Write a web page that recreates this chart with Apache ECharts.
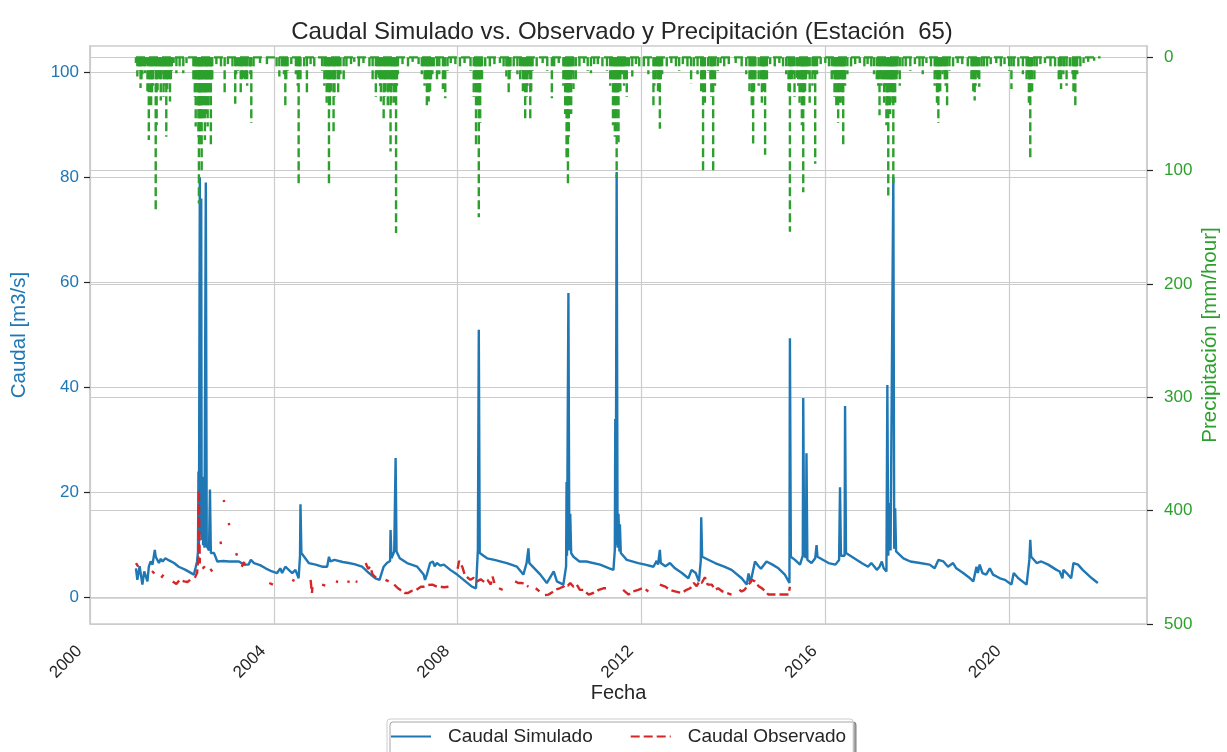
<!DOCTYPE html>
<html><head><meta charset="utf-8">
<script src="https://cdn.jsdelivr.net/npm/echarts@6/dist/echarts.min.js"></script>
<style>html,body{margin:0;padding:0;background:#fff}#c{width:1227px;height:752px}</style>
</head><body><div id="c"></div><script>
// ---- tick labels ----
const yearTicks = [2000, 2004, 2008, 2012, 2016, 2020];
const caudalTicks = [0, 20, 40, 60, 80, 100];
const precipTicks = [0, 100, 200, 300, 400, 500];

// ---- Caudal Simulado [m3/s] : [decimal year, value] ----
const simulated = [
[2001.00,5.6],[2001.03,3.4],[2001.08,6.0],[2001.14,2.5],[2001.18,5.0],[2001.25,3.1],[2001.28,5.9],[2001.32,6.9],
[2001.36,6.3],[2001.41,9.1],[2001.43,7.8],[2001.50,6.6],[2001.54,7.4],[2001.58,6.9],[2001.64,7.5],[2001.72,7.1],
[2001.83,6.6],[2001.93,5.9],[2002.08,5.3],[2002.26,4.4],[2002.30,5.8],[2002.33,6.9],[2002.35,8.8],[2002.36,24],
[2002.37,10],[2002.39,80],[2002.40,12],[2002.42,76],[2002.43,11],[2002.45,23],[2002.46,10],[2002.48,15],
[2002.49,9.5],[2002.52,79],[2002.54,9.8],[2002.57,10],[2002.59,9.0],[2002.61,20.6],[2002.63,8.5],[2002.70,8.5],
[2002.77,6.9],[2002.90,7.0],[2003.02,6.9],[2003.24,6.9],[2003.35,6.3],[2003.45,6.3],[2003.50,7.2],[2003.54,7.5],
[2003.57,6.6],[2003.70,6.2],[2003.82,5.6],[2003.96,5.0],[2004.07,4.7],[2004.14,5.6],[2004.18,4.7],[2004.25,5.9],
[2004.40,4.7],[2004.43,4.4],[2004.47,5.3],[2004.54,3.7],[2004.57,8.0],[2004.58,17.8],[2004.60,8.5],[2004.76,6.6],
[2004.91,6.3],[2005.05,5.9],[2005.16,5.9],[2005.20,7.8],[2005.23,6.9],[2005.32,7.2],[2005.50,6.8],[2005.63,6.6],
[2005.75,6.4],[2005.92,5.9],[2006.07,4.7],[2006.21,3.7],[2006.30,3.4],[2006.39,5.9],[2006.46,6.6],[2006.53,7.0],
[2006.54,12.9],[2006.56,7.5],[2006.62,8.8],[2006.65,26.6],[2006.67,8.8],[2006.74,7.5],[2006.90,6.6],[2007.12,5.9],
[2007.26,4.4],[2007.29,3.4],[2007.33,4.4],[2007.40,6.6],[2007.46,6.9],[2007.50,6.0],[2007.55,6.6],[2007.62,6.1],
[2007.70,6.3],[2007.84,5.3],[2007.99,4.4],[2008.13,3.4],[2008.31,2.1],[2008.40,1.8],[2008.44,9.1],[2008.46,51],
[2008.48,8.5],[2008.64,7.5],[2008.80,7.2],[2009.07,6.6],[2009.29,5.9],[2009.43,4.4],[2009.50,6.6],[2009.54,9.4],
[2009.56,6.6],[2009.80,4.4],[2009.94,2.8],[2010.09,5.0],[2010.16,3.1],[2010.30,2.5],[2010.36,6.0],[2010.37,22],
[2010.38,8.0],[2010.41,58],[2010.43,9.0],[2010.45,16],[2010.47,8.5],[2010.52,7.8],[2010.65,6.9],[2010.80,6.9],
[2011.10,6.3],[2011.30,5.6],[2011.39,5.3],[2011.42,9.1],[2011.43,34],[2011.44,10],[2011.46,81],[2011.48,9.5],
[2011.50,16],[2011.52,8.8],[2011.53,14],[2011.55,8.5],[2011.68,7.2],[2011.93,6.6],[2012.08,6.3],[2012.26,5.9],
[2012.33,7.0],[2012.36,6.3],[2012.40,9.1],[2012.42,6.6],[2012.52,6.0],[2012.62,6.6],[2012.73,5.6],[2012.88,4.7],
[2013.02,3.7],[2013.09,5.3],[2013.18,4.7],[2013.25,3.1],[2013.29,7.0],[2013.30,15.3],[2013.32,7.8],[2013.60,6.6],
[2013.80,5.9],[2013.96,5.3],[2014.18,3.7],[2014.29,2.5],[2014.33,4.6],[2014.37,2.8],[2014.47,6.9],[2014.54,6.1],
[2014.60,5.5],[2014.72,6.9],[2014.85,6.3],[2014.98,5.6],[2015.12,4.4],[2015.22,2.8],[2015.23,49.4],[2015.25,7.8],
[2015.34,7.2],[2015.45,6.3],[2015.51,8.0],[2015.52,38],[2015.54,8.0],[2015.58,7.6],[2015.59,27.5],[2015.61,7.2],
[2015.70,6.6],[2015.78,7.5],[2015.81,10.0],[2015.83,7.8],[2016.07,6.6],[2016.22,6.3],[2016.30,7.2],[2016.32,21],
[2016.34,8.0],[2016.42,8.0],[2016.43,36.5],[2016.45,8.5],[2016.79,6.6],[2016.93,5.9],[2017.00,6.6],[2017.07,5.9],
[2017.12,5.3],[2017.18,5.9],[2017.23,6.9],[2017.27,5.6],[2017.33,5.0],[2017.35,40.5],[2017.37,8.0],[2017.40,18],
[2017.42,9.0],[2017.45,8.8],[2017.48,80],[2017.50,9.3],[2017.52,17],[2017.54,8.8],[2017.70,7.5],[2017.85,6.9],
[2018.06,6.6],[2018.27,6.3],[2018.38,5.6],[2018.46,7.2],[2018.57,6.9],[2018.67,5.9],[2018.78,6.6],[2018.85,5.6],
[2019.00,4.7],[2019.15,3.7],[2019.22,3.1],[2019.29,5.9],[2019.32,4.7],[2019.36,6.3],[2019.42,4.7],[2019.50,4.4],
[2019.58,5.6],[2019.65,4.4],[2019.80,3.7],[2019.91,3.4],[2020.05,2.5],[2020.10,4.7],[2020.20,3.7],[2020.38,2.5],
[2020.44,7.2],[2020.46,11.0],[2020.48,7.8],[2020.60,6.6],[2020.70,6.9],[2020.85,6.3],[2021.03,5.3],[2021.10,5.0],
[2021.16,3.7],[2021.18,5.3],[2021.25,4.7],[2021.35,3.7],[2021.40,6.6],[2021.50,6.3],[2021.60,5.3],[2021.80,3.7],
[2021.93,2.8]
];

// ---- Caudal Observado [m3/s] : [decimal year, value]; null = missing ----
const observed = [
[2001.00,6.6],[2001.05,5.9],[2001.08,null],
[2001.35,5.1],[2001.40,4.6],[2001.42,null],
[2001.55,3.8],[2001.60,4.4],[2001.62,null],
[2001.80,3.1],[2001.88,2.6],[2001.95,3.4],[2002.05,3.1],[2002.12,3.0],[2002.18,3.4],[2002.22,null],
[2002.28,3.8],[2002.33,4.7],[2002.36,8],[2002.37,20.5],[2002.38,12],[2002.39,6.5],[2002.40,null],
[2002.45,5.5],[2002.50,6.0],[2002.52,null],
[2002.62,5.5],[2002.66,5.0],[2002.67,null],
[2002.84,10.7],[2002.85,10.2],[2002.86,null],
[2002.91,18.6],[2002.92,18.2],[2002.93,null],
[2003.02,14.2],[2003.03,13.8],[2003.04,null],
[2003.18,8.5],[2003.20,8.0],[2003.21,null],
[2003.30,5.9],[2003.35,6.8],[2003.38,5.9],[2003.42,6.3],[2003.46,null],
[2003.90,2.8],[2003.98,2.5],[2004.02,null],
[2004.40,3.4],[2004.45,3.2],[2004.47,null],
[2004.80,3.4],[2004.83,0.9],[2004.84,2.0],[2004.86,null],
[2005.05,2.5],[2005.12,2.3],[2005.13,null],
[2005.35,3.1],[2005.40,3.0],[2005.41,null],
[2005.60,3.1],[2005.65,3.0],[2005.66,null],
[2005.78,3.1],[2005.82,3.0],[2005.83,null],
[2006.00,6.6],[2006.05,5.5],[2006.10,5.9],[2006.15,4.4],[2006.20,4.0],[2006.30,3.4],[2006.35,null],
[2006.43,3.4],[2006.50,3.1],[2006.55,null],
[2006.62,2.5],[2006.70,1.8],[2006.75,1.5],[2006.85,0.9],[2006.92,0.9],[2007.00,1.3],[2007.10,1.5],[2007.20,2.1],
[2007.26,2.1],[2007.35,2.4],[2007.45,2.5],[2007.55,2.1],[2007.62,2.1],[2007.70,2.0],[2007.80,2.1],[2007.82,null],
[2008.00,5.5],[2008.03,7.0],[2008.06,6.8],[2008.10,5.9],[2008.15,4.5],[2008.22,3.8],[2008.28,3.4],[2008.35,3.8],
[2008.42,3.1],[2008.50,3.5],[2008.58,3.0],[2008.65,3.4],[2008.72,2.5],[2008.76,4.0],[2008.80,2.8],[2008.84,null],
[2008.90,1.8],[2008.98,1.5],[2009.02,null],
[2009.10,2.5],[2009.13,null],
[2009.25,3.1],[2009.32,2.8],[2009.40,2.8],[2009.48,2.5],[2009.54,2.1],[2009.58,null],
[2009.70,1.8],[2009.78,1.2],[2009.82,null],
[2009.90,0.5],[2009.98,0.6],[2010.05,1.0],[2010.12,1.5],[2010.22,1.8],[2010.30,2.1],[2010.34,2.5],[2010.40,2.3],
[2010.45,2.8],[2010.52,2.1],[2010.59,2.5],[2010.66,1.5],[2010.74,1.5],[2010.85,0.6],[2010.95,0.9],[2011.07,1.5],
[2011.17,1.8],[2011.28,1.8],[2011.32,null],
[2011.60,1.5],[2011.64,1.5],[2011.72,0.6],[2011.82,1.2],[2011.93,1.5],[2012.02,1.8],[2012.10,1.5],[2012.15,1.2],[2012.18,null],
[2012.40,2.5],[2012.44,2.8],[2012.52,2.1],[2012.62,1.5],[2012.73,1.2],[2012.88,0.9],[2012.98,1.5],[2013.06,1.8],
[2013.14,2.8],[2013.20,2.2],[2013.26,3.1],[2013.31,2.8],[2013.38,3.9],[2013.44,2.5],[2013.53,2.5],[2013.60,1.5],
[2013.67,1.8],[2013.76,1.2],[2013.85,0.9],[2013.96,0.6],[2014.00,null],
[2014.13,1.5],[2014.18,1.2],[2014.24,1.5],[2014.30,2.2],[2014.36,2.8],[2014.40,3.4],[2014.47,3.1],[2014.55,2.2],
[2014.62,1.8],[2014.70,1.2],[2014.76,0.6],[2014.85,0.6],[2014.98,0.6],[2015.10,0.6],[2015.20,0.6],[2015.23,2.1]
];

// ---- Precipitación [mm/hour] : rainy-day peaks [decimal year, value] ----
const precipitation = [
[2001.00,5],[2001.03,17],[2001.06,8],[2001.10,27],[2001.14,15],[2001.18,10],[2001.22,6],[2001.28,73],[2001.31,20],
[2001.35,32],[2001.40,12],[2001.43,136],[2001.47,29],[2001.50,18],[2001.54,38],[2001.58,10],[2001.62,25],[2001.66,70],
[2001.70,23],[2001.74,39],[2001.78,12],[2001.82,5],[2001.88,14],[2001.95,8],[2002.03,14],[2002.10,5],
[2002.25,20],[2002.30,61],[2002.34,45],[2002.37,129],[2002.40,80],[2002.43,102],[2002.46,55],[2002.50,73],[2002.53,40],
[2002.56,61],[2002.60,30],[2002.63,79],[2002.66,20],[2002.75,6],[2002.85,8],[2002.93,31],[2003.00,6],[2003.10,10],
[2003.16,41],[2003.22,12],[2003.28,32],[2003.33,18],[2003.37,20],[2003.42,25],[2003.47,10],[2003.51,58],[2003.56,8],
[2003.70,5],[2003.85,6],
[2004.06,10],[2004.12,17],[2004.18,8],[2004.25,44],[2004.30,12],[2004.38,6],[2004.48,15],[2004.54,114],[2004.58,20],
[2004.66,10],[2004.72,32],[2004.80,6],[2004.88,8],
[2005.05,12],[2005.10,25],[2005.15,40],[2005.20,114],[2005.25,30],[2005.30,66],[2005.34,20],[2005.40,32],[2005.45,15],
[2005.52,22],[2005.58,8],[2005.68,6],[2005.75,4],[2005.85,9],[2005.95,5],
[2006.08,10],[2006.15,20],[2006.22,35],[2006.28,18],[2006.33,39],[2006.39,57],[2006.43,30],[2006.48,45],[2006.54,83],
[2006.58,25],[2006.62,40],[2006.66,155],[2006.70,15],[2006.80,6],[2006.92,8],
[2007.02,4],[2007.15,6],[2007.22,15],[2007.28,25],[2007.33,44],[2007.37,39],[2007.42,20],[2007.48,10],[2007.55,20],
[2007.60,15],[2007.68,28],[2007.73,36],[2007.78,12],[2007.85,5],[2007.95,6],
[2008.05,8],[2008.15,5],[2008.28,12],[2008.35,35],[2008.40,79],[2008.43,45],[2008.46,141],[2008.49,58],[2008.53,20],
[2008.60,10],[2008.70,8],[2008.80,6],[2008.92,5],
[2009.00,8],[2009.06,17],[2009.11,34],[2009.15,12],[2009.22,8],[2009.30,15],[2009.36,20],[2009.42,30],[2009.47,56],
[2009.52,25],[2009.58,56],[2009.63,12],[2009.72,8],[2009.85,5],[2009.95,12],
[2010.05,36],[2010.10,10],[2010.20,5],[2010.30,25],[2010.34,50],[2010.37,91],[2010.40,114],[2010.43,40],[2010.47,50],
[2010.52,28],[2010.57,20],[2010.65,8],[2010.75,5],[2010.83,12],[2010.90,14],[2010.97,6],
[2011.05,6],[2011.15,8],[2011.25,12],[2011.32,25],[2011.38,60],[2011.42,70],[2011.46,106],[2011.50,75],[2011.54,30],
[2011.58,15],[2011.62,25],[2011.68,35],[2011.73,10],[2011.80,17],[2011.88,6],[2011.95,8],
[2012.05,10],[2012.15,15],[2012.26,45],[2012.31,20],[2012.36,30],[2012.40,63],[2012.45,15],[2012.55,8],[2012.65,5],
[2012.75,8],[2012.82,12],[2012.90,6],[2013.00,8],
[2013.08,23],[2013.14,10],[2013.22,15],[2013.30,30],[2013.34,100],[2013.38,40],[2013.45,12],[2013.52,35],[2013.56,100],
[2013.60,25],[2013.66,12],[2013.72,5],[2013.80,8],[2013.90,6],
[2014.05,5],[2014.18,10],[2014.28,15],[2014.35,30],[2014.40,45],[2014.43,76],[2014.48,20],[2014.55,25],[2014.62,40],
[2014.66,30],[2014.69,86],[2014.73,20],[2014.80,6],[2014.90,8],
[2015.00,5],[2015.08,8],[2015.15,15],[2015.20,30],[2015.23,154],[2015.27,20],[2015.33,35],[2015.38,18],[2015.44,40],
[2015.49,60],[2015.52,119],[2015.56,30],[2015.60,12],[2015.66,40],[2015.72,25],[2015.78,94],[2015.82,15],[2015.90,6],
[2016.00,5],[2016.08,10],[2016.14,20],[2016.20,35],[2016.24,45],[2016.28,58],[2016.32,40],[2016.36,30],[2016.39,78],
[2016.43,25],[2016.48,15],[2016.56,8],[2016.65,6],[2016.75,5],[2016.85,8],[2016.92,6],
[2017.00,10],[2017.06,15],[2017.12,20],[2017.18,51],[2017.22,25],[2017.28,40],[2017.33,60],[2017.37,122],[2017.41,50],
[2017.45,30],[2017.48,114],[2017.52,40],[2017.57,15],[2017.62,25],[2017.68,10],[2017.75,8],[2017.85,12],[2017.95,6],
[2018.05,8],[2018.12,15],[2018.20,5],[2018.30,10],[2018.38,25],[2018.43,40],[2018.46,58],[2018.50,30],[2018.55,15],
[2018.60,20],[2018.65,44],[2018.70,12],[2018.78,8],[2018.88,5],[2018.98,6],
[2019.10,8],[2019.18,20],[2019.22,30],[2019.25,38],[2019.30,15],[2019.35,26],[2019.40,10],[2019.45,8],[2019.52,8],
[2019.60,6],[2019.72,5],[2019.82,10],[2019.90,6],
[2020.00,12],[2020.05,28],[2020.10,8],[2020.20,10],[2020.30,15],[2020.38,20],[2020.43,40],[2020.46,89],[2020.50,30],
[2020.55,20],[2020.60,8],[2020.68,6],[2020.78,5],[2020.90,8],
[2021.00,10],[2021.08,20],[2021.13,28],[2021.18,15],[2021.25,25],[2021.32,10],[2021.40,30],[2021.44,44],[2021.48,15],
[2021.55,8],[2021.62,5],[2021.72,4],[2021.85,3],
// smaller rainy days inside the wet seasons
[2001.08,12],[2001.12,20],[2001.20,14],[2001.25,30],[2001.33,45],[2001.37,25],[2001.45,60],[2001.52,22],[2001.56,15],
[2001.60,35],[2001.64,18],[2001.68,28],[2001.72,14],[2001.76,20],[2002.28,35],[2002.32,25],[2002.36,70],[2002.38,50],
[2002.41,65],[2002.44,40],[2002.48,35],[2002.52,50],[2002.55,28],[2002.58,45],[2002.62,35],[2002.64,22],[2003.18,15],
[2003.26,10],[2003.31,22],[2003.40,12],[2003.49,15],[2004.22,15],[2004.27,20],[2004.52,25],[2004.56,12],[2005.13,18],
[2005.18,30],[2005.22,45],[2005.28,22],[2005.32,35],[2005.37,12],[2005.42,20],[2006.25,15],[2006.31,25],[2006.36,22],
[2006.41,35],[2006.46,20],[2006.51,30],[2006.56,40],[2006.60,20],[2006.64,30],[2006.68,25],[2007.25,10],[2007.31,20],
[2007.35,15],[2007.40,30],[2007.45,15],[2007.70,18],[2008.38,25],[2008.42,30],[2008.48,40],[2008.51,15],[2009.08,10],
[2009.13,20],[2009.40,12],[2009.45,20],[2009.50,35],[2009.55,15],[2009.60,30],[2010.32,15],[2010.36,30],[2010.39,60],
[2010.42,70],[2010.45,25],[2010.49,15],[2011.35,20],[2011.40,35],[2011.44,50],[2011.48,40],[2011.52,25],[2011.56,12],
[2011.60,10],[2011.65,20],[2012.28,25],[2012.34,12],[2012.38,25],[2012.42,20],[2013.32,20],[2013.36,15],[2013.50,20],
[2013.54,15],[2014.38,20],[2014.45,30],[2014.60,20],[2014.64,15],[2014.67,25],[2015.25,12],[2015.30,15],[2015.41,25],
[2015.47,30],[2015.50,20],[2015.54,45],[2015.58,20],[2015.63,15],[2015.75,15],[2016.18,15],[2016.22,25],[2016.26,20],
[2016.30,25],[2016.34,15],[2016.37,40],[2016.41,20],[2017.15,25],[2017.20,15],[2017.25,20],[2017.30,25],[2017.35,45],
[2017.39,30],[2017.43,25],[2017.46,40],[2017.50,25],[2017.55,20],[2018.40,15],[2018.44,25],[2018.48,20],[2018.52,10],
[2018.58,12],[2018.62,25],[2019.20,12],[2019.27,25],[2019.32,18],[2020.41,15],[2020.44,25],[2020.48,15],[2021.10,12],
[2021.20,8],[2021.38,15],[2021.42,20],[2021.46,10]
];
// dry-day baseline of the precipitation record (first and last day)
const precipBaseline = [[2001.00,0],[2021.99,0]];

const FONT = '"Liberation Sans", Arial, sans-serif';
const TXT = '#262626';
const GRID = '#cccccc';
const BLUE = '#1f77b4', RED = '#d62728', GREEN = '#2ca02c';

const chart = echarts.init(document.getElementById('c'), null, {renderer: 'canvas'});
chart.setOption({
  animation: false,
  backgroundColor: '#ffffff',
  textStyle: {fontFamily: FONT},
  title: {
    text: 'Caudal Simulado vs. Observado y Precipitación (Estación  65)',
    left: 617, top: 15, textAlign: 'center',
    textStyle: {fontFamily: FONT, fontSize: 24, fontWeight: 'normal', color: TXT}
  },
  grid: {left: 90, right: 80, top: 46, bottom: 128, show: true, borderColor: GRID, borderWidth: 1.5,
    containLabel: false, outerBoundsMode: 'none'},
  legend: {
    data: ['Caudal Simulado', 'Caudal Observado'],
    left: 387, top: 719,
    padding: [8, 7, 12, 3],
    itemWidth: 40, itemHeight: 14, itemGap: 37,
    itemStyle: {opacity: 0, borderWidth: 0},
    textStyle: {fontFamily: FONT, fontSize: 19, color: TXT, padding: [0, 0, 0, 12]},
    backgroundColor: '#ffffff',
    borderColor: GRID, borderWidth: 1, borderRadius: 3,
    shadowColor: 'rgba(0,0,0,0.35)', shadowOffsetX: 3, shadowOffsetY: 3, shadowBlur: 0
  },
  xAxis: {
    type: 'value', min: 2000, max: 2023,
    name: 'Fecha', nameLocation: 'middle', nameGap: 59, nameMoveOverlap: false,
    nameTextStyle: {fontFamily: FONT, fontSize: 20, color: TXT},
    axisLine: {show: true, lineStyle: {color: GRID, width: 1.5}},
    axisTick: {show: false, customValues: yearTicks},
    axisLabel: {customValues: yearTicks, rotate: 45, margin: 14, fontSize: 17, color: TXT, fontFamily: FONT,
      padding: [0, 15, 0, 0], formatter: v => String(v)},
    splitLine: {show: true, lineStyle: {color: GRID, width: 1.2}}
  },
  yAxis: [{
    type: 'value', position: 'left', min: -5, max: 105,
    name: 'Caudal [m3/s]', nameLocation: 'middle', nameGap: 60, nameRotate: 90, nameMoveOverlap: false,
    nameTextStyle: {fontFamily: FONT, fontSize: 20.5, color: BLUE},
    axisLine: {show: true, lineStyle: {color: GRID, width: 1.5}},
    axisTick: {show: true, customValues: caudalTicks, length: 6, lineStyle: {color: TXT, width: 1.2}},
    axisLabel: {customValues: caudalTicks, margin: 11, fontSize: 17, color: BLUE, fontFamily: FONT},
    splitLine: {show: true, lineStyle: {color: GRID, width: 1.2}}
  }, {
    type: 'value', position: 'right', min: -10, max: 500, inverse: true,
    name: 'Precipitación [mm/hour]', nameLocation: 'middle', nameGap: 53, nameRotate: 90, nameMoveOverlap: false,
    nameTextStyle: {fontFamily: FONT, fontSize: 20.5, color: GREEN},
    axisLine: {show: true, lineStyle: {color: GRID, width: 1.5}},
    axisTick: {show: true, customValues: precipTicks, length: 6, lineStyle: {color: TXT, width: 1.2}},
    axisLabel: {customValues: precipTicks, margin: 17, fontSize: 17, color: GREEN, fontFamily: FONT},
    splitLine: {show: true, lineStyle: {color: GRID, width: 1.2}}
  }],
  series: [{
    name: 'Caudal Simulado', type: 'line', yAxisIndex: 0, data: simulated,
    showSymbol: false, symbol: 'none', color: BLUE,
    lineStyle: {color: BLUE, width: 2.4}, z: 3
  }, {
    name: 'Caudal Observado', type: 'line', yAxisIndex: 0, data: observed,
    showSymbol: false, symbol: 'none', connectNulls: false, color: RED,
    lineStyle: {color: RED, width: 2.4, type: [9, 4]}, z: 4
  }, {
    name: 'Precipitación', type: 'line', yAxisIndex: 1, data: precipBaseline,
    showSymbol: false, symbol: 'none', color: GREEN,
    lineStyle: {color: GREEN, width: 2.4, type: [9, 4]}, z: 5
  }, {
    name: 'Precipitación diaria', type: 'custom', yAxisIndex: 1, data: precipitation,
    encode: {x: 0, y: 1}, clip: true, z: 5,
    renderItem: function (params, api) {
      const p0 = api.coord([api.value(0), 0]);
      const p1 = api.coord([api.value(0), api.value(1)]);
      return {type: 'line', shape: {x1: p0[0], y1: p0[1], x2: p1[0], y2: p1[1]},
        style: {stroke: GREEN, lineWidth: 2.4, lineDash: [9, 4]}};
    }
  }]
});
</script></body></html>
